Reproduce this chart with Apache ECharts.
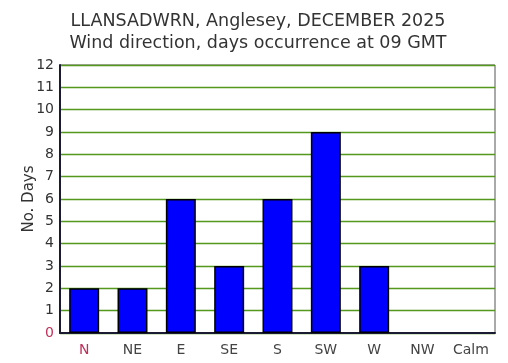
<!DOCTYPE html>
<html><head><meta charset="utf-8">
<script src="https://cdn.jsdelivr.net/npm/echarts@6/dist/echarts.min.js"></script>
<style>html,body{margin:0;padding:0;background:#fff}#c{width:508px;height:363px}</style>
</head><body><div id="c"></div>
<script>
const categories = ['N','NE','E','SE','S','SW','W','NW','Calm'];
const days = [2,2,6,3,6,9,3,0,0];
const titleLines = ['LLANSADWRN, Anglesey, DECEMBER 2025','Wind direction, days occurrence at 09 GMT'];
const yName = 'No. Days';

const chart = echarts.init(document.getElementById('c'), null, {renderer:'canvas'});
const font = 'Verdana, DejaVu Sans, sans-serif';
chart.setOption({
  animation:false,
  backgroundColor:'#fff',
  title:{text:titleLines.join('\n'), left:253, top:5, textAlign:'center',
    textStyle:{fontFamily:font, fontSize:17.5, fontWeight:'normal', color:'#333', lineHeight:22}},
  grid:{left:60, right:13, top:65, bottom:30, show:true, borderColor:'#555', borderWidth:1},
  xAxis:{type:'category', data:categories,
    axisLine:{lineStyle:{color:'#1a1a33', width:2}}, axisTick:{show:false},
    axisLabel:{fontFamily:font, fontSize:14, margin:10,
      color:(v)=> v==='N' ? '#c0305a' : '#444'}},
  yAxis:{type:'value', min:0, max:12, interval:1, name:yName, nameLocation:'middle', nameGap:23,
    nameMoveOverlap:false,
    nameTextStyle:{fontFamily:font, fontSize:15, color:'#333'},
    axisLine:{show:true, lineStyle:{color:'#1a1a33', width:2}}, axisTick:{show:false},
    splitLine:{lineStyle:{color:'#55981e', width:1.4}},
    axisLabel:{fontFamily:font, fontSize:14, margin:6,
      color:(v)=> Number(v)===0 ? '#c0305a' : '#333'}},
  series:[{type:'bar', barWidth:'62%',
    data:days.map(v=>({value:v, itemStyle:{borderWidth: v ? 1.5 : 0}})),
    itemStyle:{color:'#0000ff', borderColor:'#000', borderWidth:1.5}}]
});
</script></body></html>
